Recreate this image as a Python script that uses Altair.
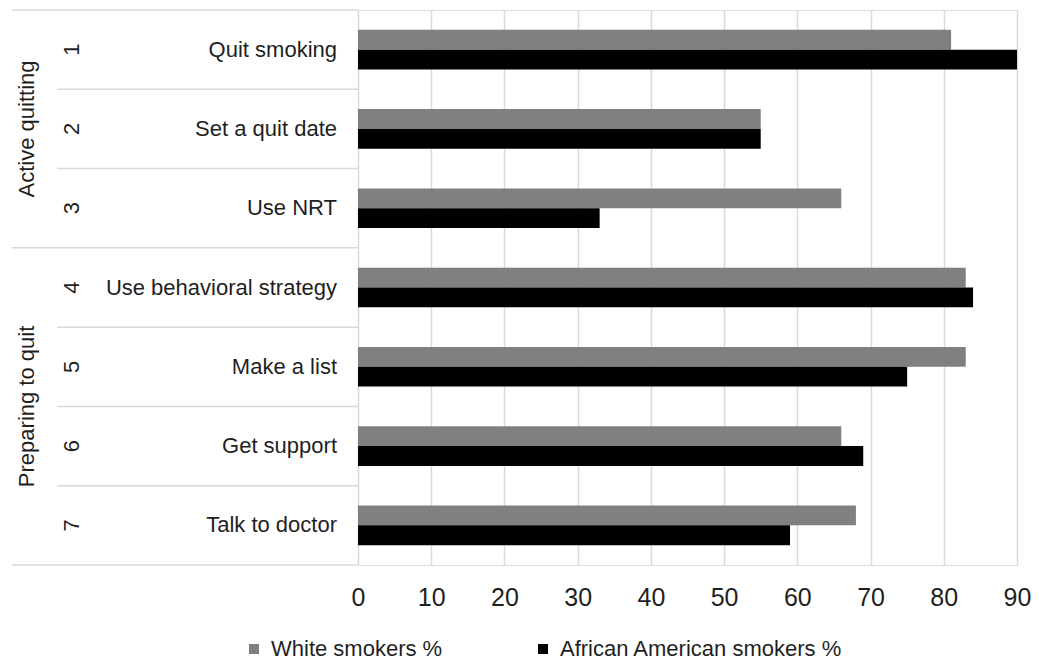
import altair as alt
import pandas as pd

categories = ["Quit smoking", "Set a quit date", "Use NRT", "Use behavioral strategy",
              "Make a list", "Get support", "Talk to doctor"]
numbers = ["1", "2", "3", "4", "5", "6", "7"]
groups = ["Active quitting", "Preparing to quit"]
white = [81, 55, 66, 83, 83, 66, 68]
black = [90, 55, 33, 84, 75, 69, 59]
series = ["White smokers %", "African American smokers %"]
colors = ["#808080", "#000000"]
x_ticks = [0, 10, 20, 30, 40, 50, 60, 70, 80, 90]

FONT = "Liberation Sans"
TXT = "#1f1f1f"
LINE = "#d9d9d9"
FS = 22

rows = pd.DataFrame({"cat": categories, "num": numbers})
bars = pd.DataFrame({
    "cat": categories * 2,
    "series": [series[0]] * len(categories) + [series[1]] * len(categories),
    "value": white + black,
})

y_scale = alt.Scale(domain=categories, paddingInner=0, paddingOuter=0)

bar = alt.Chart(bars).mark_bar().encode(
    x=alt.X("value:Q",
            scale=alt.Scale(domain=[0, 90], nice=False, zero=True),
            axis=alt.Axis(values=x_ticks, grid=True, gridColor=LINE, gridWidth=1.5,
                          domain=False, ticks=False, labelFontSize=25, labelPadding=20,
                          labelFlush=False, labelColor=TXT, title=None, labelFont=FONT)),
    y=alt.Y("cat:N", scale=y_scale,
            axis=alt.Axis(labels=False, ticks=False, domain=True, domainColor=LINE,
                          domainWidth=1.5, grid=False, title=None)),
    yOffset=alt.YOffset("series:N",
                        scale=alt.Scale(domain=series, paddingInner=0, paddingOuter=1)),
    color=alt.Color("series:N", scale=alt.Scale(domain=series, range=colors),
                    legend=alt.Legend(orient="none", legendX=-115, legendY=628,
                                      direction="horizontal", title=None, padding=0,
                                      symbolType="square", symbolSize=100,
                                      symbolStrokeWidth=0, labelFontSize=22,
                                      labelFont=FONT, labelColor=TXT,
                                      labelOffset=6, columnPadding=89, labelLimit=500)),
)

cat_text = alt.Chart(rows).mark_text(
    align="right", baseline="middle", fontSize=FS, font=FONT, color=TXT
).encode(x=alt.value(-21), y=alt.Y("cat:N", axis=None), text="cat:N")

num_text = alt.Chart(rows).mark_text(
    align="center", baseline="middle", fontSize=FS, font=FONT, color=TXT, angle=270
).encode(x=alt.value(-286), y=alt.Y("cat:N", axis=None), text="num:N")

g1 = pd.DataFrame({"cat": [categories[1]], "group": [groups[0]]})
g2 = pd.DataFrame({"cat": [categories[5]], "group": [groups[1]]})

g1_text = alt.Chart(g1).mark_text(
    align="center", baseline="middle", fontSize=FS, font=FONT, color=TXT, angle=270
).encode(x=alt.value(-331), y=alt.Y("cat:N", axis=None), text="group:N")

g2_text = alt.Chart(g2).mark_text(
    align="center", baseline="middle", fontSize=FS, font=FONT, color=TXT, angle=270
).encode(x=alt.value(-331), y=alt.Y("cat:N", axis=None, bandPosition=0), text="group:N")

group_tops = pd.DataFrame({"cat": [categories[0], categories[3]]})
group_bottom = pd.DataFrame({"cat": [categories[-1]]})
inner = pd.DataFrame({"cat": [categories[1], categories[2], categories[4],
                              categories[5], categories[6]]})

r_group = alt.Chart(group_tops).mark_rule(color=LINE, strokeWidth=1.5).encode(
    x=alt.value(-346), x2=alt.value(0), y=alt.Y("cat:N", axis=None, bandPosition=0))
r_bottom = alt.Chart(group_bottom).mark_rule(color=LINE, strokeWidth=1.5).encode(
    x=alt.value(-346), x2=alt.value(0), y=alt.Y("cat:N", axis=None, bandPosition=1))
r_inner = alt.Chart(inner).mark_rule(color=LINE, strokeWidth=1.5).encode(
    x=alt.value(-301), x2=alt.value(0), y=alt.Y("cat:N", axis=None, bandPosition=0))

chart = alt.layer(
    r_group, r_bottom, r_inner, bar, cat_text, num_text, g1_text, g2_text
).properties(
    width=659, height=555,
    autosize=alt.AutoSizeParams(type="none"),
    padding={"left": 350, "top": 2, "right": 14, "bottom": 99},
).configure_view(stroke=None).configure(font=FONT)

chart.save("out.html", embed_options={"renderer": "svg", "actions": False})
